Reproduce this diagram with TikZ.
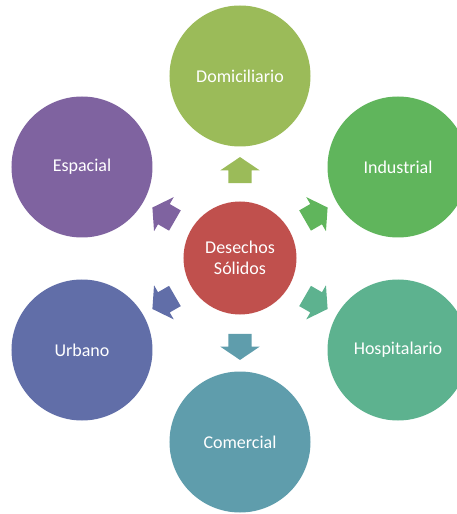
\documentclass[tikz,border=0pt]{standalone}
\usepackage{fontspec}
\setmainfont{Carlito}
\usetikzlibrary{shapes.arrows,calc}

\definecolor{redcore}{HTML}{C0504D}
\definecolor{domgreen}{HTML}{9BBB59}
\definecolor{indgreen}{HTML}{60B55C}
\definecolor{hospgreen}{HTML}{5DB28F}
\definecolor{comblue}{HTML}{5F9DAC}
\definecolor{urbblue}{HTML}{616EA8}
\definecolor{espviolet}{HTML}{7F63A0}

\begin{document}
\begin{tikzpicture}[x=1pt,y=1pt,
  ball/.style={circle,minimum size=141pt,inner sep=0pt,text=white,
    font=\fontsize{18}{21}\selectfont},
  blockarrow/.style={single arrow,draw=none,minimum height=26pt,minimum width=39pt,
    single arrow head extend=8pt,single arrow tip angle=112,
    inner xsep=0pt,inner ysep=11.5pt,text height=0pt,text depth=0pt}]

\useasboundingbox (-240,-256) rectangle (217,258);
\clip (-240,-256) rectangle (217,258);

% centre
\node[ball,fill=redcore,minimum size=113pt,align=center] (ds) at (0,0) {Desechos\\Sólidos};

% outer ring
\node[ball,fill=domgreen] (dom) at (0,182) {Domiciliario};
\node[ball,fill=indgreen] (ind) at (158,91) {Industrial};
\node[ball,fill=hospgreen] (hosp) at (158,-92) {Hospitalario};
\node[ball,fill=comblue] (com) at (0,-184) {Comercial};
\node[ball,fill=urbblue] (urb) at (-158,-92) {Urbano};
\node[ball,fill=espviolet] (esp) at (-158,91) {Espacial};

% block arrows
\node[blockarrow,fill=domgreen,rotate=90] (adom) at ($(ds.90)!0.5!(dom.270)$) {};
\node[blockarrow,fill=indgreen,rotate=30] (aind) at ($(ds.30)!0.5!(ind.210)$) {};
\node[blockarrow,fill=hospgreen,rotate=-30] (ahosp) at ($(ds.-30)!0.5!(hosp.150)$) {};
\node[blockarrow,fill=comblue,rotate=-90] (acom) at ($(ds.-90)!0.5!(com.90)$) {};
\node[blockarrow,fill=urbblue,rotate=-150] (aurb) at ($(ds.-150)!0.5!(urb.30)$) {};
\node[blockarrow,fill=espviolet,rotate=150] (aesp) at ($(ds.150)!0.5!(esp.-30)$) {};

\end{tikzpicture}
\end{document}
